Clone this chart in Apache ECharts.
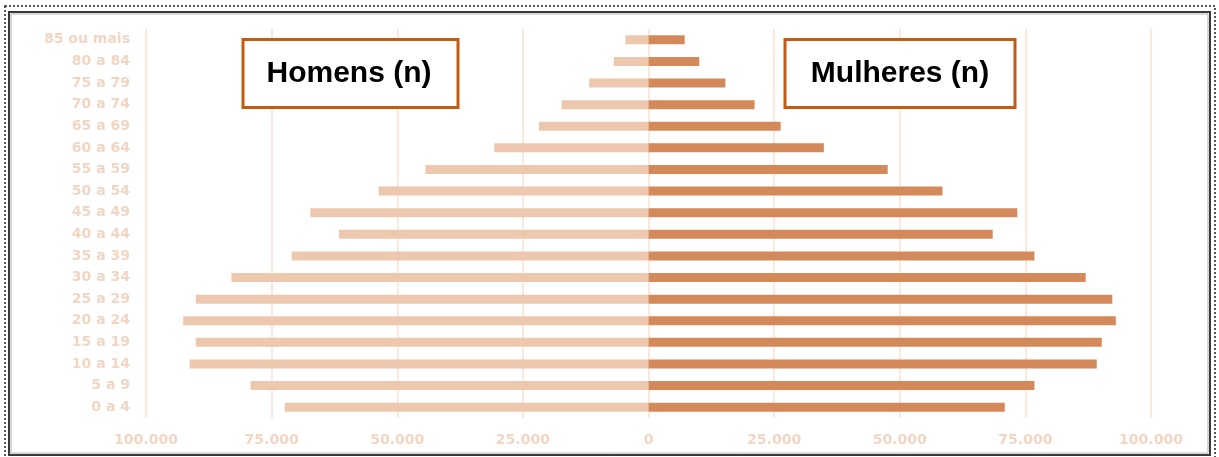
<!DOCTYPE html>
<html>
<head>
<meta charset="utf-8">
<script src="https://cdn.jsdelivr.net/npm/echarts@6/dist/echarts.min.js"></script>
<style>
html,body{margin:0;padding:0;background:#fff;}
#chart{width:1219px;height:457px;}
</style>
</head>
<body>
<div id="chart"></div>
<script>
var categories = ['0 a 4','5 a 9','10 a 14','15 a 19','20 a 24','25 a 29','30 a 34','35 a 39','40 a 44','45 a 49','50 a 54','55 a 59','60 a 64','65 a 69','70 a 74','75 a 79','80 a 84','85 ou mais'];
var men = [72400, 79200, 91300, 90100, 92600, 90100, 83000, 71000, 61600, 67300, 53700, 44400, 30700, 21800, 17300, 11800, 6900, 4600];
var women = [70900, 76800, 89200, 90200, 93000, 92300, 87000, 76800, 68500, 73400, 58500, 47600, 34900, 26300, 21100, 15300, 10100, 7200];
var legendLabels = ['Homens (n)', 'Mulheres (n)'];

function fmt(v){
  v = Math.abs(v);
  return String(v).replace(/\B(?=(\d{3})+(?!\d))/g, '.');
}

var chart = echarts.init(document.getElementById('chart'), null, {renderer:'canvas'});
var labelColor = '#F1D6C4';
var option = {
  backgroundColor:'#ffffff',
  animation:false,
  grid:{left:146, right:68, top:29, bottom:39, containLabel:false},
  xAxis:{
    type:'value', min:-100000, max:100000, interval:25000,
    axisLine:{show:false}, axisTick:{show:false},
    splitLine:{show:true, lineStyle:{color:'#F8E9DF', width:2}},
    axisLabel:{formatter:fmt, color:labelColor, fontFamily:'DejaVu Sans', fontWeight:'bold', fontSize:14, margin:15}
  },
  yAxis:{
    type:'category', data:categories,
    axisLine:{show:false}, axisTick:{show:false},
    axisLabel:{color:labelColor, fontFamily:'DejaVu Sans', fontWeight:'bold', fontSize:14, margin:16}
  },
  series:[
    {name:legendLabels[0], type:'bar', stack:'p', barWidth:9,
     data:men.map(function(v){return -v;}),
     itemStyle:{color:'#EDC8AE'}},
    {name:legendLabels[1], type:'bar', stack:'p', barWidth:9,
     data:women,
     itemStyle:{color:'#D4895A'}}
  ],
  graphic:[
    {type:'rect', silent:true, z:100, shape:{x:5, y:6, width:1210, height:455},
     style:{fill:null, stroke:'#222', lineWidth:1.5, lineDash:[2,2]}},
    {type:'rect', silent:true, z:100, shape:{x:9, y:12, width:1201, height:443},
     style:{fill:null, stroke:'#3a3a3a', lineWidth:2}},
    {type:'rect', silent:true, z:100, shape:{x:11, y:14, width:1197, height:439},
     style:{fill:null, stroke:'#b0b0b0', lineWidth:1}},
    {type:'rect', z:100, shape:{x:243, y:39.5, width:215, height:68},
     style:{fill:'#ffffff', stroke:'#C55A11', lineWidth:3}},
    {type:'text', z:101, x:349, y:73.5,
     style:{text:legendLabels[0], font:'bold 30px "Liberation Sans", Arial, sans-serif', fill:'#000', align:'center', verticalAlign:'middle'}},
    {type:'rect', z:100, shape:{x:785, y:39.5, width:230, height:68},
     style:{fill:'#ffffff', stroke:'#C55A11', lineWidth:3}},
    {type:'text', z:101, x:900, y:73.5,
     style:{text:legendLabels[1], font:'bold 30px "Liberation Sans", Arial, sans-serif', fill:'#000', align:'center', verticalAlign:'middle'}}
  ]
};
chart.setOption(option);
</script>
</body>
</html>
